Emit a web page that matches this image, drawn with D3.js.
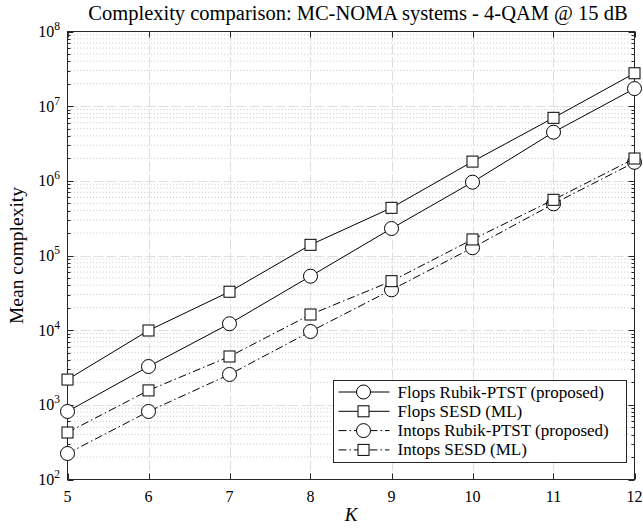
<!DOCTYPE html>
<html>
<head>
<meta charset="utf-8">
<script src="https://cdn.jsdelivr.net/npm/d3@7/dist/d3.min.js"></script>
<style>
  html, body { margin: 0; padding: 0; background: #fff; }
  svg { display: block; }
  text { font-family: "Liberation Serif", "DejaVu Serif", serif; fill: #000; }
</style>
</head>
<body>
<svg id="chart" width="643" height="528"></svg>
<script>
// Mean complexity per number of users K
const K = [5, 6, 7, 8, 9, 10, 11, 12];
const flopsRubik  = [815, 3260, 12200, 52800, 230000, 960000, 4480000, 17200000];
const flopsSESD   = [2180, 9900, 32700, 139000, 435000, 1810000, 6980000, 27600000];
const intopsRubik = [223, 815, 2550, 9600, 34700, 127000, 492000, 1770000];
const intopsSESD  = [426, 1560, 4440, 16200, 45300, 164000, 557000, 1990000];

const seriesNames = [
  "Flops Rubik-PTST (proposed)",
  "Flops SESD (ML)",
  "Intops Rubik-PTST (proposed)",
  "Intops SESD (ML)"
];
const yExponents = [2, 3, 4, 5, 6, 7, 8];
const xTicks = [5, 6, 7, 8, 9, 10, 11, 12];

const titleText = "Complexity comparison: MC-NOMA systems - 4-QAM @ 15 dB";
const xLabel = "K";
const yLabel = "Mean complexity";

const series = [
  { name: seriesNames[0], values: flopsRubik,  marker: "circle", dash: null },
  { name: seriesNames[1], values: flopsSESD,   marker: "square", dash: null },
  { name: seriesNames[2], values: intopsRubik, marker: "circle", dash: "8,3,1.5,3" },
  { name: seriesNames[3], values: intopsSESD,  marker: "square", dash: "8,3,1.5,3" }
];

const svg = d3.select("#chart");
const L = 67.5, R = 634.5, T = 31.5, B = 479.5;

const x = d3.scaleLinear().domain([5, 12]).range([L, R]);
const y = d3.scaleLog().domain([1e2, 1e8]).range([B, T]);

// grid
const grid = svg.append("g");
const minorVals = [];
for (let e = 2; e < 8; e++) {
  for (let m = 2; m <= 9; m++) minorVals.push(m * Math.pow(10, e));
}
grid.selectAll("line.minor").data(minorVals).join("line")
  .attr("x1", L).attr("x2", R)
  .attr("y1", d => y(d)).attr("y2", d => y(d))
  .attr("stroke", "#c8c8c8").attr("stroke-width", 1)
  .attr("stroke-dasharray", "1,2.2");
grid.selectAll("line.majy").data(yExponents.slice(1, -1)).join("line")
  .attr("x1", L).attr("x2", R)
  .attr("y1", d => Math.round(y(Math.pow(10, d))) + 0.5)
  .attr("y2", d => Math.round(y(Math.pow(10, d))) + 0.5)
  .attr("stroke", "#dedede").attr("stroke-width", 1)
  .attr("stroke-dasharray", "10,3");
grid.selectAll("line.majx").data(xTicks.slice(1, -1)).join("line")
  .attr("x1", d => Math.round(x(d)) + 0.5).attr("x2", d => Math.round(x(d)) + 0.5)
  .attr("y1", T).attr("y2", B)
  .attr("stroke", "#dedede").attr("stroke-width", 1)
  .attr("stroke-dasharray", "10,3");

// ticks (inward, on all four sides)
const ticks = svg.append("g").attr("stroke", "#262626").attr("stroke-width", 1);
minorVals.forEach(v => {
  const yy = Math.round(y(v)) + 0.5;
  ticks.append("line").attr("x1", L).attr("x2", L + 3).attr("y1", yy).attr("y2", yy);
  ticks.append("line").attr("x1", R).attr("x2", R - 3).attr("y1", yy).attr("y2", yy);
});
yExponents.forEach(e => {
  const yy = Math.round(y(Math.pow(10, e))) + 0.5;
  ticks.append("line").attr("x1", L).attr("x2", L + 6).attr("y1", yy).attr("y2", yy);
  ticks.append("line").attr("x1", R).attr("x2", R - 6).attr("y1", yy).attr("y2", yy);
});
xTicks.forEach(k => {
  const xx = Math.round(x(k)) + 0.5;
  ticks.append("line").attr("x1", xx).attr("x2", xx).attr("y1", B).attr("y2", B - 6);
  ticks.append("line").attr("x1", xx).attr("x2", xx).attr("y1", T).attr("y2", T + 6);
});

// axis box
svg.append("rect").attr("x", L).attr("y", T).attr("width", R - L).attr("height", B - T)
  .attr("fill", "none").attr("stroke", "#262626").attr("stroke-width", 1);

// tick labels
svg.append("g").selectAll("text").data(xTicks).join("text")
  .attr("x", d => x(d)).attr("y", 502)
  .attr("text-anchor", "middle").attr("font-size", 16)
  .text(d => d);

const yl = svg.append("g").selectAll("text").data(yExponents).join("text")
  .attr("x", 60).attr("y", d => y(Math.pow(10, d)) + 5.5)
  .attr("text-anchor", "end").attr("font-size", 16);
yl.append("tspan").text("10");
yl.append("tspan").attr("dy", -7).attr("font-size", 11.5).text(d => d);

// axis labels and title
svg.append("text").attr("x", (L + R) / 2).attr("y", 521)
  .attr("text-anchor", "middle").attr("font-size", 19).attr("font-style", "italic")
  .text(xLabel);
svg.append("text")
  .attr("transform", `translate(23,${(T + B) / 2}) rotate(-90)`)
  .attr("text-anchor", "middle").attr("font-size", 19.5)
  .text(yLabel);
svg.append("text").attr("x", 358).attr("y", 20)
  .attr("text-anchor", "middle").attr("font-size", 20.5)
  .text(titleText);

// series
const line = d3.line().x((d, i) => x(K[i])).y(d => y(d));
function drawMarker(g, type, cx, cy) {
  if (type === "circle") {
    g.append("circle").attr("cx", cx).attr("cy", cy).attr("r", 7)
      .attr("fill", "#fff").attr("stroke", "#000").attr("stroke-width", 1);
  } else {
    g.append("rect").attr("x", cx - 5.5).attr("y", cy - 5.5).attr("width", 11).attr("height", 11)
      .attr("fill", "#fff").attr("stroke", "#000").attr("stroke-width", 1);
  }
}
const plot = svg.append("g");
series.forEach(s => {
  const g = plot.append("g");
  g.append("path").attr("d", line(s.values))
    .attr("fill", "none").attr("stroke", "#000").attr("stroke-width", 1)
    .attr("stroke-dasharray", s.dash);
  s.values.forEach((v, i) => drawMarker(g, s.marker, x(K[i]), y(v)));
});

// legend
const lg = svg.append("g");
const lgX = 333.5, lgY = 380.5, lgW = 293, lgH = 82, rowH = 19.3;
lg.append("rect").attr("x", lgX).attr("y", lgY).attr("width", lgW).attr("height", lgH)
  .attr("fill", "#fff").attr("stroke", "#262626").attr("stroke-width", 1);
series.forEach((s, i) => {
  const cy = lgY + 11.5 + i * rowH;
  lg.append("line").attr("x1", lgX + 5).attr("x2", lgX + 56).attr("y1", cy).attr("y2", cy)
    .attr("stroke", "#000").attr("stroke-width", 1).attr("stroke-dasharray", s.dash);
  drawMarker(lg, s.marker, lgX + 30, cy);
  lg.append("text").attr("x", lgX + 64).attr("y", cy + 5.5).attr("font-size", 17)
    .text(s.name);
});
</script>
</body>
</html>
